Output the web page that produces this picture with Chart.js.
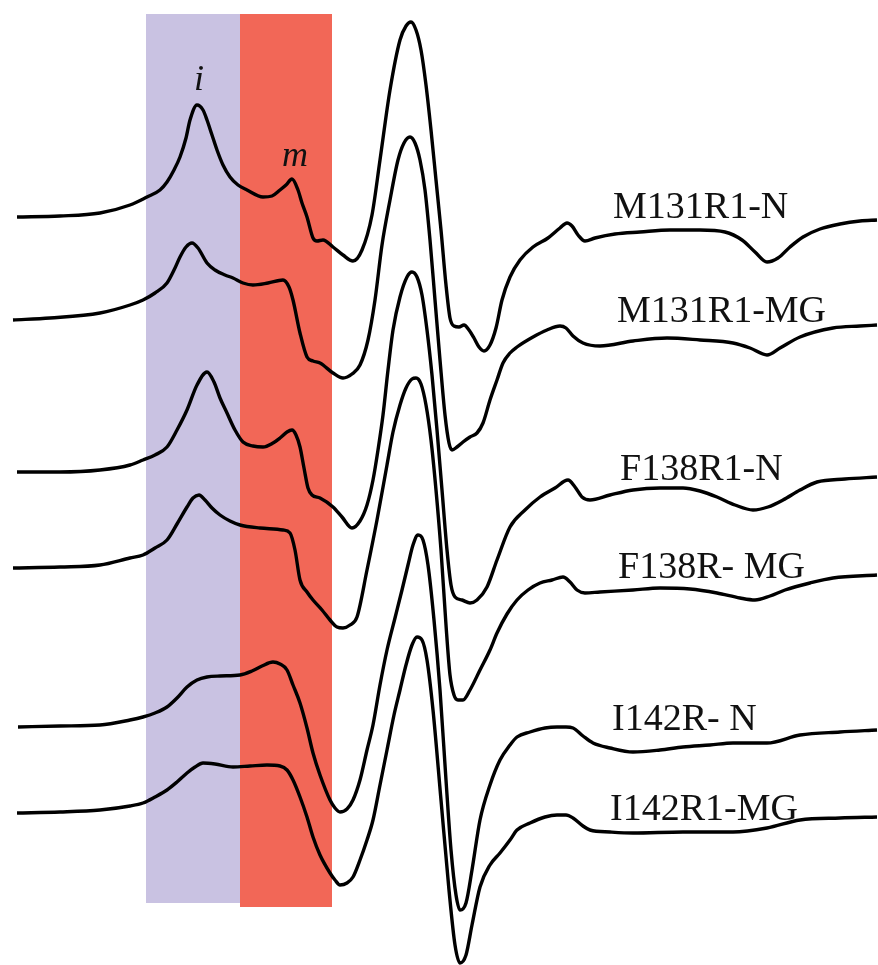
<!DOCTYPE html>
<html lang="en">
<head>
<meta charset="UTF-8">
<title>EPR spectra</title>
<style>
  html, body {
    margin: 0;
    padding: 0;
    background: #fff;
  }
  .wrap {
    width: 878px;
    height: 965px;
    position: relative;
  }
</style>
<script src="https://cdn.jsdelivr.net/npm/chart.js"></script>
</head>
<body>
<div class="wrap"><canvas id="epr"></canvas></div>

<script>
// spectra names, top to bottom
const traceNames = ['M131R1-N', 'M131R1-MG', 'F138R1-N', 'F138R- MG', 'I142R- N', 'I142R1-MG'];

// vertical stacking offset of each spectrum (a.u.)
const offsets = [748, 645, 493, 397, 238, 152];

// field (a.u.) and first-derivative signal (a.u.) for each spectrum
const field1 = [17,60,100,130,147,160,167,174,180,186,190,197,203,207,212,217,223,230,238,247,263,272,280,286,292,298,302,307,313,317,323,333,343,353,362,372,380,390,400,406,411,416,421,426,431,436,441,446,450,454,459,464,469,474,479,484,490,496,502,510,520,533,548,560,567,572,578,585,595,615,640,670,700,725,742,755,767,778,790,803,820,840,860,877];
const signal1 = [0,1,4,12,20,27,35,47,60,79,97,112,107,97,82,67,52,40,32,27,20,21,27,32,38,27,14,0,-21,-24,-23,-30,-38,-44,-33,2,57,127,177,191,195,187,167,132,87,37,-13,-68,-101,-109,-110,-108,-113,-121,-130,-134,-128,-111,-83,-60,-43,-30,-21,-11,-6,-9,-18,-24,-21,-17,-15,-13,-13,-15,-23,-35,-45,-41,-30,-20,-12,-7,-4,-3];

const field2 = [13,50,100,130,143,155,167,175,180,186,192,198,207,215,225,233,243,253,268,283,289,293,300,307,313,320,333,343,352,360,368,375,382,390,398,404,410,415,420,425,430,435,440,445,449,452,457,463,470,477,483,490,497,503,510,517,533,547,560,566,573,583,600,633,667,700,733,750,767,780,800,833,860,877];
const signal2 = [0,2,7,15,20,27,37,52,63,73,77,72,57,50,45,42,37,35,37,40,33,20,-13,-37,-41,-43,-53,-58,-54,-45,-20,20,75,120,160,177,183,177,160,130,80,20,-40,-95,-123,-130,-127,-122,-117,-113,-103,-80,-60,-43,-33,-27,-17,-10,-6,-8,-16,-23,-26,-21,-18,-20,-23,-28,-35,-28,-17,-8,-6,-5];

const field3 = [17,60,100,130,143,155,167,177,187,197,207,214,220,227,235,243,253,263,273,280,287,292,296,300,304,308,312,320,333,342,352,360,367,373,378,383,388,393,400,407,412,417,422,427,432,437,442,447,451,455,462,470,477,487,497,510,525,540,555,568,575,582,590,610,633,660,683,700,717,735,753,768,783,800,817,845,877];
const signal3 = [0,0,2,7,12,17,25,42,62,87,100,90,74,59,42,30,26,25,29,34,40,42,37,25,4,-16,-23,-26,-35,-45,-56,-49,-33,-8,22,57,102,142,175,195,200,195,177,142,97,42,-18,-78,-113,-125,-128,-131,-128,-115,-88,-55,-38,-25,-16,-8,-15,-25,-28,-23,-18,-16,-16,-19,-25,-33,-38,-35,-28,-18,-10,-7,-5];

const field4 = [13,60,100,130,143,155,167,177,187,193,199,205,212,220,230,240,260,283,290,295,300,307,313,322,330,337,343,350,357,367,377,387,393,400,406,412,416,421,426,431,436,441,446,450,454,458,463,470,480,490,497,507,517,528,540,552,563,570,577,585,600,633,660,690,717,740,755,770,785,810,833,877];
const signal4 = [0,1,3,10,13,20,28,44,61,70,73,68,60,53,47,43,40,38,35,18,-12,-24,-32,-42,-52,-59,-60,-57,-49,-2,48,103,136,163,180,189,190,184,163,128,78,18,-57,-107,-127,-132,-132,-122,-102,-82,-65,-46,-32,-22,-15,-12,-9,-14,-22,-25,-24,-22,-20,-21,-25,-30,-32,-28,-22,-15,-10,-7];

const field5 = [18,60,100,130,143,155,167,177,187,197,207,220,240,252,262,273,280,287,293,300,307,313,320,330,335,340,347,353,360,367,373,380,387,395,402,408,413,418,423,428,434,440,446,451,456,460,466,472,480,490,500,510,517,530,545,557,566,573,583,593,610,633,660,683,710,733,767,800,840,877];
const signal5 = [0,1,2,7,10,14,20,29,40,47,50,51,52,56,61,65,63,57,42,24,-1,-26,-48,-73,-81,-85,-82,-73,-53,-23,2,42,77,109,137,162,182,192,187,162,107,37,-53,-123,-168,-183,-176,-143,-93,-58,-33,-18,-10,-5,-1,0,0,-1,-9,-16,-21,-25,-23,-20,-18,-16,-16,-8,-5,-3];

const field6 = [17,60,100,130,143,155,167,177,187,195,203,215,233,250,267,280,287,293,300,307,313,320,330,335,340,347,353,360,367,373,380,387,394,400,406,412,417,422,427,433,441,449,455,460,466,472,480,490,500,510,517,530,545,557,566,573,583,590,610,633,683,733,767,800,840,877];
const signal6 = [0,1,3,7,10,16,23,31,40,46,50,49,46,47,48,47,43,33,16,-4,-24,-42,-60,-67,-72,-70,-64,-47,-27,-7,28,63,98,123,148,168,176,173,153,103,13,-77,-132,-150,-142,-112,-74,-52,-40,-27,-17,-10,-4,-2,-2,-5,-13,-17,-19,-20,-19,-19,-15,-7,-5,-4];

const fields = [field1, field2, field3, field4, field5, field6];
const signals = [signal1, signal2, signal3, signal4, signal5, signal6];

// field windows of the immobile (i) and mobile (m) components
const bandI = [146, 240];
const bandM = [240, 332];

// ---- layout (not data) ----
const bandTop = 951;
const bandBottomI = 62;
const bandBottomM = 58;
const nameAt = [[613, 747], [617, 643], [620, 485], [618, 387], [612, 235], [610, 145]];
const compAt = { i: [199, 875], m: [295, 799] };

const datasets = traceNames.map(function(name, k) {
  return {
    label: name,
    data: fields[k].map(function(x, j) { return { x: x, y: offsets[k] + signals[k][j] }; }),
    borderColor: '#000',
    borderWidth: 3.4,
    pointRadius: 0,
    fill: false,
    cubicInterpolationMode: 'monotone'
  };
});

const bands = {
  id: 'bands',
  beforeDatasetsDraw(chart) {
    const x = chart.scales.x, y = chart.scales.y, ctx = chart.ctx;
    ctx.save();
    ctx.fillStyle = '#c9c2e2';
    ctx.fillRect(x.getPixelForValue(bandI[0]), y.getPixelForValue(bandTop),
      x.getPixelForValue(bandI[1]) - x.getPixelForValue(bandI[0]),
      y.getPixelForValue(bandBottomI) - y.getPixelForValue(bandTop));
    ctx.fillStyle = '#f26757';
    ctx.fillRect(x.getPixelForValue(bandM[0]), y.getPixelForValue(bandTop),
      x.getPixelForValue(bandM[1]) - x.getPixelForValue(bandM[0]),
      y.getPixelForValue(bandBottomM) - y.getPixelForValue(bandTop));
    ctx.restore();
  }
};

const names = {
  id: 'names',
  afterDatasetsDraw(chart) {
    const x = chart.scales.x, y = chart.scales.y, ctx = chart.ctx;
    ctx.save();
    ctx.fillStyle = '#111';
    ctx.textBaseline = 'alphabetic';
    ctx.textAlign = 'left';
    ctx.font = '38px "Liberation Serif", "Times New Roman", serif';
    traceNames.forEach(function(n, k) {
      ctx.fillText(n, x.getPixelForValue(nameAt[k][0]), y.getPixelForValue(nameAt[k][1]));
    });
    ctx.textAlign = 'center';
    ctx.font = 'italic 36px "Liberation Serif", "Times New Roman", serif';
    ctx.fillText('i', x.getPixelForValue(compAt.i[0]), y.getPixelForValue(compAt.i[1]));
    ctx.fillText('m', x.getPixelForValue(compAt.m[0]), y.getPixelForValue(compAt.m[1]));
    ctx.restore();
  }
};

window.onload = function() {
  new Chart(document.getElementById('epr'), {
    type: 'line',
    data: { datasets: datasets },
    options: {
      responsive: true,
      maintainAspectRatio: false,
      animation: false,
      layout: { padding: 0 },
      scales: {
        x: { type: 'linear', min: 0, max: 878, display: false },
        y: { type: 'linear', min: 0, max: 965, display: false }
      },
      plugins: {
        legend: { display: false },
        tooltip: { enabled: false }
      }
    },
    plugins: [bands, names]
  });
};
</script>
</body>
</html>
